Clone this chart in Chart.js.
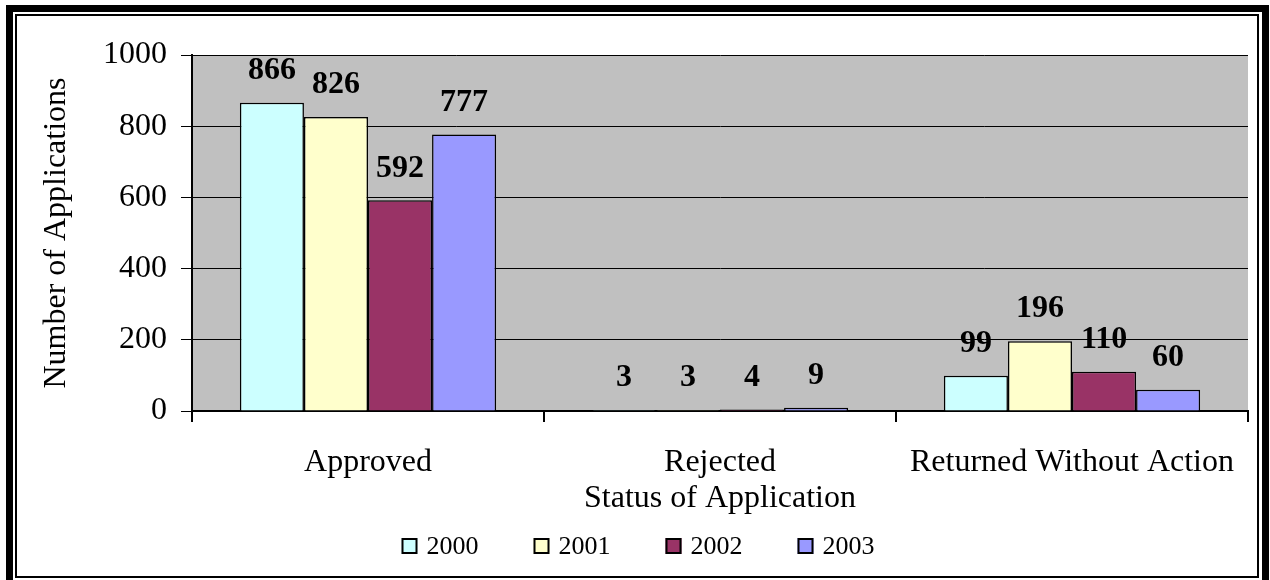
<!DOCTYPE html>
<html>
<head>
<meta charset="utf-8">
<script src="https://cdn.jsdelivr.net/npm/chart.js@4"></script>
<style>
  html, body { margin: 0; padding: 0; background: #fff; width: 1270px; height: 580px; overflow: hidden; }
  #wrap { position: absolute; left: 0; top: 0; width: 1270px; height: 580px; }
  canvas { position: absolute; left: 0; top: 0; }
  .outer { position: absolute; left: 6px; top: 5px; width: 1249px; height: 600px; border: 7px solid #000; }
  .inner { position: absolute; left: 15px; top: 14px; width: 1240px; height: 560px; border: 2px solid #000; }
</style>
</head>
<body>
<div id="wrap">
  <div class="outer"></div>
  <div class="inner"></div>
  <canvas id="c" width="1270" height="580"></canvas>
</div>
<script>
const categories = ["Approved", "Rejected", "Returned Without Action"];
const years = ["2000", "2001", "2002", "2003"];
const values2000 = [866, 3, 99];
const values2001 = [826, 3, 196];
const values2002 = [592, 4, 110];
const values2003 = [777, 9, 60];
const colors = ["#CCFFFF", "#FFFFCC", "#993366", "#9999FF"];
const yTicks = [0, 200, 400, 600, 800, 1000];

const FONT = '"Liberation Serif", "Times New Roman", serif';
const series = [values2000, values2001, values2002, values2003];

const plotBg = {
  id: 'plotBg',
  beforeDraw(chart) {
    const a = chart.chartArea, ctx = chart.ctx;
    ctx.save();
    ctx.fillStyle = '#C0C0C0';
    ctx.fillRect(a.left, a.top, a.right - a.left, a.bottom - a.top);
    ctx.restore();
  }
};

const valueLabels = {
  id: 'valueLabels',
  afterDatasetsDraw(chart) {
    const ctx = chart.ctx;
    ctx.save();
    ctx.font = 'bold 32px ' + FONT;
    ctx.fillStyle = '#000';
    ctx.textAlign = 'center';
    ctx.textBaseline = 'middle';
    chart.data.datasets.forEach((ds, i) => {
      const meta = chart.getDatasetMeta(i);
      meta.data.forEach((el, j) => {
        ctx.fillText(String(ds.data[j]), el.x, el.y - 32);
      });
    });
    ctx.restore();
  }
};

const customLegend = {
  id: 'customLegend',
  afterDraw(chart) {
    const ctx = chart.ctx;
    ctx.save();
    ctx.font = '26px ' + FONT;
    ctx.textBaseline = 'middle';
    ctx.textAlign = 'left';
    const box = 16, gapText = 9, gapItem = 55;
    const items = chart.data.datasets.map(ds => ({ text: ds.label, color: ds.backgroundColor, w: ctx.measureText(ds.label).width }));
    let total = 0;
    items.forEach((it, i) => { total += box + gapText + it.w + (i < items.length - 1 ? gapItem : 0); });
    let x = 638 - total / 2;
    const cy = 546;
    items.forEach(it => {
      ctx.fillStyle = it.color;
      ctx.fillRect(x, cy - box / 2, box, box);
      ctx.strokeStyle = '#000';
      ctx.lineWidth = 2;
      ctx.strokeRect(x + 1, cy - box / 2 + 1, box - 2, box - 2);
      ctx.fillStyle = '#000';
      ctx.fillText(it.text, x + box + gapText, cy + 1);
      x += box + gapText + it.w + gapItem;
    });
    ctx.restore();
  }
};

new Chart(document.getElementById('c'), {
  type: 'bar',
  data: {
    labels: categories,
    datasets: years.map((y, i) => ({
      label: y,
      data: series[i],
      backgroundColor: colors[i],
      borderColor: '#000',
      borderWidth: 1.5,
      barPercentage: 1.0,
      categoryPercentage: 0.728
    }))
  },
  options: {
    responsive: false,
    animation: false,
    devicePixelRatio: 1,
    layout: { padding: { top: 55, right: 22, left: 0, bottom: 0 } },
    plugins: { legend: { display: false }, tooltip: { enabled: false } },
    scales: {
      x: {
        afterFit(s) { s.height = 169; },
        grid: { drawOnChartArea: false, drawTicks: true, tickLength: 11, color: '#000', lineWidth: 2, offset: true },
        border: { display: true, color: '#000', width: 2 },
        ticks: { font: { family: FONT, size: 32 }, color: '#000', padding: 21, maxRotation: 0, autoSkip: false },
        title: { display: true, text: 'Status of Application', font: { family: FONT, size: 32 }, color: '#000', padding: { top: 0, bottom: 62 } }
      },
      y: {
        min: 0, max: 1000,
        afterFit(s) { s.width = 192; },
        afterBuildTicks(s) { s.ticks = yTicks.map(v => ({ value: v })); },
        grid: { color: '#000', lineWidth: 1, tickLength: 11, drawTicks: true },
        border: { display: true, color: '#000', width: 2 },
        ticks: { font: { family: FONT, size: 32 }, color: '#000', padding: 14, callback: v => String(v) },
        title: { display: true, text: 'Number of Applications', font: { family: FONT, size: 32 }, color: '#000', padding: { top: 37, bottom: 0 } }
      }
    }
  },
  plugins: [plotBg, valueLabels, customLegend]
});
</script>
</body>
</html>
